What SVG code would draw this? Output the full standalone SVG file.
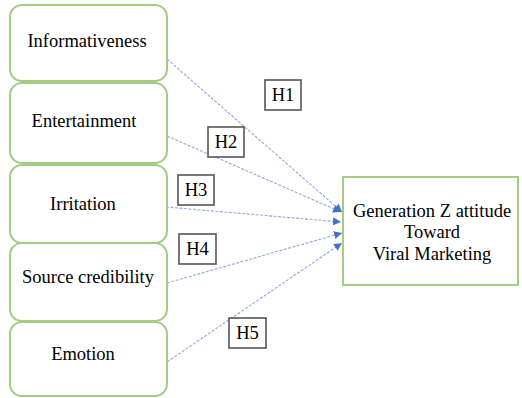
<svg xmlns="http://www.w3.org/2000/svg" width="522" height="398" viewBox="0 0 522 398">
<style>
.n{fill:#fff;stroke:#a3cc85;stroke-width:2}
.t{font-family:"Liberation Serif","Times New Roman",serif;font-size:18.5px;fill:#000;text-anchor:middle}
.h{fill:#fff;stroke:#555;stroke-width:1.6}
.c{stroke:#93a9dc;stroke-width:1.1;stroke-dasharray:3 1.5;fill:none}
</style>
<defs>
<marker id="ah" markerWidth="9" markerHeight="9" refX="8" refY="4.5" orient="auto" markerUnits="userSpaceOnUse">
<path d="M0,0.5 L8,4.5 L0,8.5 Z" fill="#4472c4"/>
</marker>
</defs>
<rect width="522" height="398" fill="#fff"/>
<g id="connectors">
<line class="c" x1="167" y1="59" x2="342" y2="212" marker-end="url(#ah)"/>
<line class="c" x1="167" y1="136" x2="341" y2="212" marker-end="url(#ah)"/>
<line class="c" x1="166" y1="207" x2="341" y2="222" marker-end="url(#ah)"/>
<line class="c" x1="167" y1="283" x2="342" y2="233" marker-end="url(#ah)"/>
<line class="c" x1="167" y1="362" x2="342" y2="243" marker-end="url(#ah)"/>
</g>
<g id="informativeness"><rect class="n" x="10" y="5" width="157" height="76" rx="12"/><text class="t" x="87" y="47">Informativeness</text></g>
<g id="entertainment"><rect class="n" x="10" y="83" width="157" height="80" rx="12"/><text class="t" x="84" y="127">Entertainment</text></g>
<g id="irritation"><rect class="n" x="10" y="165" width="157" height="78" rx="12"/><text class="t" x="83" y="210">Irritation</text></g>
<g id="source"><rect class="n" x="10" y="243" width="157" height="78" rx="12"/><text class="t" x="88" y="283">Source credibility</text></g>
<g id="emotion"><rect class="n" x="10" y="322" width="157" height="74" rx="12"/><text class="t" x="83" y="360">Emotion</text></g>
<g id="target"><rect class="n" x="343" y="177" width="175" height="108"/><text class="t" x="432" y="217">Generation Z attitude</text><text class="t" x="432" y="238">Toward</text><text class="t" x="432" y="260">Viral Marketing</text></g>
<g id="h1"><rect class="h" x="265" y="80" width="36" height="30"/><text class="t" x="283" y="101">H1</text></g>
<g id="h2"><rect class="h" x="208" y="127" width="36" height="30"/><text class="t" x="226" y="148">H2</text></g>
<g id="h3"><rect class="h" x="178" y="175" width="36" height="30"/><text class="t" x="196" y="196">H3</text></g>
<g id="h4"><rect class="h" x="179" y="234" width="37" height="30"/><text class="t" x="197.5" y="255">H4</text></g>
<g id="h5"><rect class="h" x="229" y="318" width="37" height="30"/><text class="t" x="247.5" y="339">H5</text></g>
</svg>
